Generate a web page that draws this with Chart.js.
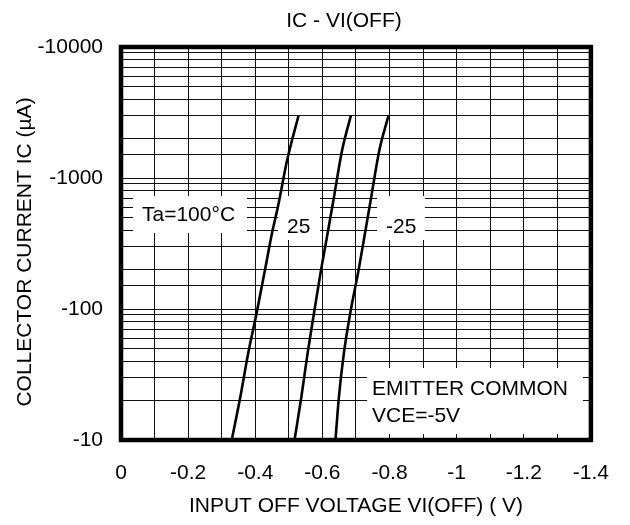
<!DOCTYPE html>
<html>
<head>
<meta charset="utf-8">
<script src="https://cdn.jsdelivr.net/npm/chart.js@4.4.1/dist/chart.umd.min.js"></script>
<style>
  body { margin: 0; background: #fff; }
  canvas { display: block; }
</style>
</head>
<body>
<canvas id="chart" width="630" height="525"></canvas>
<script>
// IC - VI(OFF) curves, magnitudes (axes are labelled negative)
// input off voltage |VI(OFF)| in V, collector current |IC| in uA
const vTa100 = [0.330, 0.355, 0.379, 0.404, 0.429, 0.450, 0.468, 0.495, 0.529];
const iTa100 = [10, 21, 46, 93, 199, 380, 611, 1370, 3000];

const vTa25 = [0.517, 0.537, 0.556, 0.575, 0.596, 0.612, 0.633, 0.659, 0.685];
const iTa25 = [10, 21, 46, 93, 199, 336, 679, 1640, 3000];

const vTaM25 = [0.639, 0.649, 0.664, 0.683, 0.708, 0.727, 0.744, 0.770, 0.797];
const iTaM25 = [10, 21, 46, 93, 199, 380, 679, 1640, 3000];

const xMin = 0, xMax = 1.4, xStep = 0.1;
const yMin = 10, yMax = 10000;

const FONT = 'Liberation Sans, Arial, sans-serif';

function toPoints(xs, ys) {
    return xs.map((x, i) => ({ x: x, y: ys[i] }));
}

function curve(label, xs, ys) {
    return {
        label: label,
        data: toPoints(xs, ys),
        borderColor: '#000',
        borderWidth: 2.6,
        pointRadius: 0,
        cubicInterpolationMode: 'monotone',
        fill: false
    };
}

// text boxes, frame and titles drawn on top of the grid
const overlay = {
    id: 'overlay',
    beforeDatasetsDraw(chart) {
        const ctx = chart.ctx;
        ctx.save();
        ctx.fillStyle = '#fff';
        ctx.fillRect(133, 196, 114, 37);   // Ta=100°C
        ctx.fillRect(278, 196, 42, 44);    // 25
        ctx.fillRect(377, 196, 48, 44);    // -25
        ctx.fillRect(367, 368, 216, 66);   // emitter common

        ctx.fillStyle = '#000';
        ctx.font = '21px ' + FONT;
        ctx.textAlign = 'left';
        ctx.textBaseline = 'alphabetic';
        ctx.fillText('Ta=100°C', 142, 221);
        ctx.fillText('25', 287, 233);
        ctx.fillText('-25', 386, 233);
        ctx.fillText('EMITTER COMMON', 372, 395);
        ctx.fillText('VCE=-5V', 372, 422);
        ctx.restore();
    },
    afterDatasetsDraw(chart) {
        const ctx = chart.ctx;
        const a = chart.chartArea;
        ctx.save();
        ctx.strokeStyle = '#000';
        ctx.lineWidth = 4.5;
        ctx.strokeRect(a.left, a.top, a.right - a.left, a.bottom - a.top);

        ctx.fillStyle = '#000';
        ctx.font = '21px ' + FONT;
        ctx.textAlign = 'center';
        ctx.textBaseline = 'alphabetic';
        ctx.fillText('IC - VI(OFF)', 344, 27);

        ctx.translate(31, 252);
        ctx.rotate(-Math.PI / 2);
        ctx.fillText('COLLECTOR CURRENT IC (µA)', 0, 0);
        ctx.restore();
    }
};

new Chart(document.getElementById('chart'), {
    type: 'line',
    data: {
        datasets: [
            curve('Ta=100°C', vTa100, iTa100),
            curve('25', vTa25, iTa25),
            curve('-25', vTaM25, iTaM25)
        ]
    },
    options: {
        responsive: false,
        animation: false,
        layout: { padding: { top: 47, right: 33, bottom: 0, left: 0 } },
        plugins: {
            legend: { display: false },
            tooltip: { enabled: false }
        },
        scales: {
            x: {
                type: 'linear',
                min: xMin,
                max: xMax,
                grid: { color: '#111', lineWidth: 1, drawTicks: false },
                border: { display: false },
                ticks: {
                    stepSize: xStep,
                    autoSkip: false,
                    maxRotation: 0,
                    padding: 21,
                    color: '#000',
                    font: { family: FONT, size: 21 },
                    callback: (v) => {
                        const n = Math.round(v * 10);
                        if (n % 2 !== 0) return '';
                        return n === 0 ? '0' : '-' + (n / 10);
                    }
                },
                title: {
                    display: true,
                    text: 'INPUT OFF VOLTAGE VI(OFF) ( V)',
                    color: '#000',
                    font: { family: FONT, size: 21 },
                    padding: { top: 0, bottom: 6 }
                },
                afterFit: (scale) => { scale.height = 85; }
            },
            y: {
                type: 'logarithmic',
                min: yMin,
                max: yMax,
                grid: { color: '#111', lineWidth: 1, drawTicks: false },
                border: { display: false },
                ticks: {
                    autoSkip: false,
                    padding: 18,
                    color: '#000',
                    font: { family: FONT, size: 21 },
                    callback: (v) => {
                        const e = Math.log10(v);
                        return Math.abs(e - Math.round(e)) < 1e-9 ? '-' + v : '';
                    }
                },
                afterFit: (scale) => { scale.width = 121; }
            }
        }
    },
    plugins: [overlay]
});
</script>
</body>
</html>
